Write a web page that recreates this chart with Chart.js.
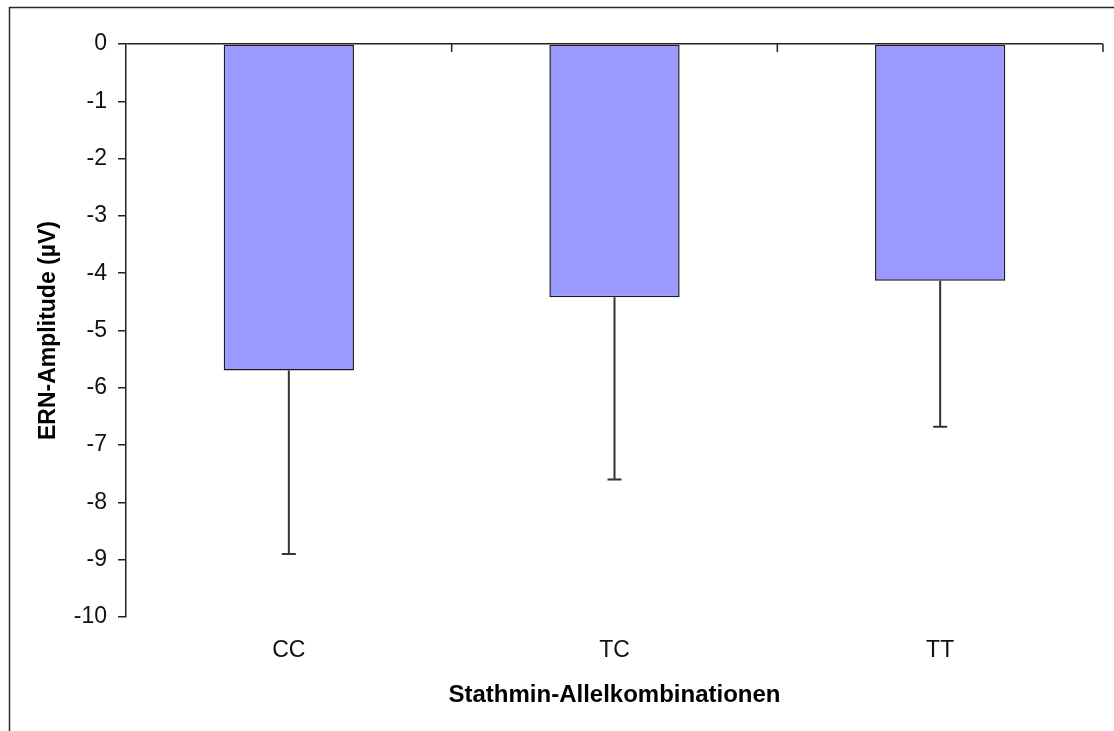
<!DOCTYPE html>
<html lang="de">
<head>
<meta charset="UTF-8" />
<title>ERN-Amplitude nach Stathmin-Allelkombinationen</title>
<script src="https://cdn.jsdelivr.net/npm/chart.js"></script>
<style>
    html, body { margin: 0; padding: 0; background: #fff; }
    #wrap { width: 1114px; height: 731px; }
</style>
</head>
<body>
<div id="wrap"><canvas id="ern"></canvas></div>
<script>
    // group means and the (downward) error bar lengths
    const alleles = ["CC", "TC", "TT"];
    const ernMeans = [-5.70, -4.42, -4.13];
    const ernErrors = [3.20, 3.18, 2.55];
    const yTicks = [0, -1, -2, -3, -4, -5, -6, -7, -8, -9, -10];

    const FONT = "'Liberation Sans', Arial, sans-serif";

    // outer frame of the chart object (only left and top edges are in view)
    const framePlugin = {
        id: "frame",
        beforeDraw(chart) {
            const { ctx, width, height } = chart;
            ctx.save();
            ctx.strokeStyle = "#2a2a2a";
            ctx.lineWidth = 1.5;
            ctx.beginPath();
            ctx.moveTo(9.5, height);
            ctx.lineTo(9.5, 7.5);
            ctx.lineTo(width, 7.5);
            ctx.stroke();
            ctx.restore();
        },
    };

    // category tick marks hanging from the zero line
    const zeroTicksPlugin = {
        id: "zeroTicks",
        afterDraw(chart) {
            const { ctx } = chart;
            const x = chart.scales.x;
            const y0 = chart.scales.y.getPixelForValue(0);
            const step = (x.right - x.left) / alleles.length;
            ctx.save();
            ctx.strokeStyle = "#222";
            ctx.lineWidth = 1.5;
            ctx.beginPath();
            for (let i = 1; i <= alleles.length; i++) {
                const px = x.left + i * step;
                ctx.moveTo(px, y0);
                ctx.lineTo(px, y0 + 8);
            }
            ctx.stroke();
            ctx.restore();
        },
    };

    // minus-only error bars with a short cap
    const errorBarPlugin = {
        id: "errorBars",
        afterDatasetsDraw(chart) {
            const { ctx } = chart;
            const y = chart.scales.y;
            const meta = chart.getDatasetMeta(0);
            ctx.save();
            ctx.strokeStyle = "#333";
            ctx.lineWidth = 2;
            meta.data.forEach((bar, i) => {
                const top = y.getPixelForValue(ernMeans[i]);
                const end = y.getPixelForValue(ernMeans[i] - ernErrors[i]);
                ctx.beginPath();
                ctx.moveTo(bar.x, top);
                ctx.lineTo(bar.x, end);
                ctx.moveTo(bar.x - 7, end);
                ctx.lineTo(bar.x + 7, end);
                ctx.stroke();
            });
            ctx.restore();
        },
    };

    new Chart(document.getElementById("ern"), {
        type: "bar",
        data: {
            labels: alleles,
            datasets: [
                {
                    data: ernMeans,
                    backgroundColor: "#9999ff",
                    borderColor: "#1a1a1a",
                    borderWidth: 1.5,
                    borderSkipped: false,
                    barPercentage: 0.4,
                    categoryPercentage: 1,
                },
            ],
        },
        options: {
            responsive: true,
            maintainAspectRatio: false,
            animation: false,
            layout: { padding: { top: 44, right: 11, left: 0, bottom: 0 } },
            plugins: {
                legend: { display: false },
                tooltip: { enabled: false },
            },
            scales: {
                x: {
                    grid: { display: false, drawTicks: false },
                    border: { display: false },
                    ticks: {
                        padding: 20,
                        color: "#111",
                        font: { family: FONT, size: 23 },
                    },
                    title: {
                        display: true,
                        text: "Stathmin-Allelkombinationen",
                        color: "#000",
                        font: { family: FONT, size: 24, weight: "bold" },
                        padding: { top: 0, bottom: 21 },
                    },
                    afterFit(s) { s.height = 114; },
                },
                y: {
                    min: -10,
                    max: 0,
                    afterBuildTicks(s) { s.ticks = yTicks.map((v) => ({ value: v })); },
                    grid: {
                        color: (c) => (c.tick && c.tick.value === 0 ? "#222" : "rgba(0,0,0,0)"),
                        lineWidth: 1.5,
                        tickColor: "#222",
                        tickLength: 8,
                    },
                    border: { display: true, color: "#222", width: 1.5 },
                    ticks: {
                        padding: 11,
                        color: "#111",
                        font: { family: FONT, size: 23 },
                    },
                    title: {
                        display: true,
                        text: "ERN-Amplitude (µV)",
                        color: "#000",
                        font: { family: FONT, size: 23, weight: "bold" },
                        padding: { top: 35, bottom: 0 },
                    },
                    afterFit(s) { s.width = 126; },
                },
            },
        },
        plugins: [framePlugin, zeroTicksPlugin, errorBarPlugin],
    });
</script>
</body>
</html>
